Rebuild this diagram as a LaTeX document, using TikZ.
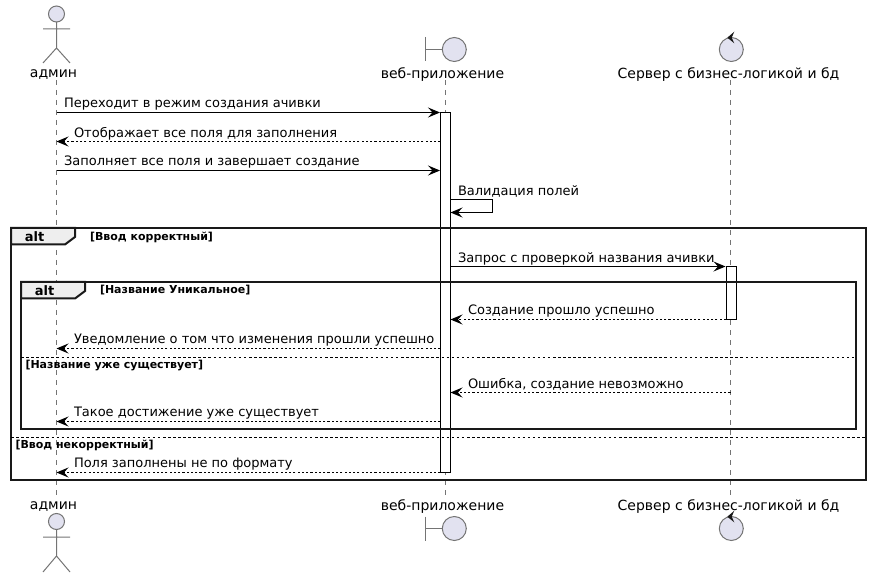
\documentclass[tikz,border=0pt]{standalone}
\usepackage{fontspec}
\setmainfont{DejaVu Sans}
\usetikzlibrary{arrows.meta}

\definecolor{partfill}{RGB}{226,226,240}
\definecolor{partline}{RGB}{24,24,24}
\definecolor{tabfill}{RGB}{238,238,238}

\tikzset{every picture/.style={line width=0.75pt},
  head/.style={draw=partline!60,fill=partfill,line width=0.75pt},
  limb/.style={draw=partline!60,line width=0.75pt},
  lifeline/.style={draw=partline!60,line width=0.5pt,dash pattern=on 3.75pt off 3.75pt},
  activebar/.style={draw=black,fill=white,line width=0.75pt,minimum width=7.5pt,inner sep=0pt},
  framebox/.style={draw=black!90,line width=1.5pt},
  tabshape/.style={draw=black!90,fill=tabfill,line width=1.5pt},
  framesep/.style={draw=black,line width=0.6pt,dash pattern=on 1.9pt off 1.9pt},
  msg/.style={draw=black,line width=0.75pt,-{Stealth[length=9pt,width=7.5pt,inset=3.4pt]}},
  reply/.style={msg,dash pattern=on 1.6pt off 1.6pt},
  partname/.style={font=\fontsize{10.5}{12}\selectfont,inner sep=0.75pt,text=black},
  msgtext/.style={font=\fontsize{9.75}{12}\selectfont,anchor=west,inner sep=0pt,text=black},
  guardtext/.style={font=\fontsize{8.25}{10}\selectfont\bfseries,anchor=west,inner sep=0pt,text=black},
  alttext/.style={font=\fontsize{9.75}{12}\selectfont\bfseries,inner sep=0pt,text=black}
}

\begin{document}
\begin{tikzpicture}[x=0.75pt,y=0.75pt,yscale=-1,xscale=1]
\useasboundingbox (0,0) rectangle (871,577);

%Lifelines
\coordinate (adminTop) at (56.5,80);
\coordinate (adminEnd) at (56.5,497);
\coordinate (webTop) at (445.5,80);
\coordinate (webEnd) at (445.5,497);
\coordinate (serverTop) at (730.5,80);
\coordinate (serverEnd) at (730.5,497);
\draw [lifeline] (adminTop) -- (adminEnd);
\draw [lifeline] (webTop) -- (webEnd);
\draw [lifeline] (serverTop) -- (serverEnd);

%Activation bars
\node (webBar) [activebar,minimum height=270pt] at (445.5,292.5) {};
\node (serverBar) [activebar,minimum height=39.75pt] at (731,293) {};

%Actor top
\draw [head] (56.5,14) circle [radius=8];
\draw [limb] (56.5,22) -- (56.5,48) (43,29) -- (70,29) (43,63) -- (56.5,48) -- (70,63);
%Boundary top
\draw [limb] (425.5,37) -- (425.5,61) (425.5,49.5) -- (442.3,49.5);
\draw [head] (454.3,49.5) circle [radius=12];
%Control top
\draw [head] (731.3,49.5) circle [radius=12];
\fill [partline] (727.3,37.7) -- (734.3,31.7) -- (731.7,37.7) -- (734.3,43.3) -- cycle;

%Actor bottom
\draw [head] (56.5,521.5) circle [radius=8];
\draw [limb] (56.5,529.5) -- (56.5,556) (43,537) -- (70,537) (43,572) -- (56.5,556) -- (70,572);
%Boundary bottom
\draw [limb] (425.5,516.5) -- (425.5,540.5) (425.5,528.5) -- (442.3,528.5);
\draw [head] (454.3,528.5) circle [radius=12];
%Control bottom
\draw [head] (731.3,528.5) circle [radius=12];
\fill [partline] (727.3,516.7) -- (734.3,510.7) -- (731.7,516.7) -- (734.3,522.3) -- cycle;

% Text Node
\node (adminName) [partname] at (53.5,74.5) {админ};
\node (webName) [partname] at (442.5,74.5) {веб-приложение};
\node (serverName) [partname] at (728.5,74.5) {Сервер с бизнес-логикой и бд};
\node (adminName2) [partname] at (53.5,506.5) {админ};
\node (webName2) [partname] at (442.5,506.5) {веб-приложение};
\node (serverName2) [partname] at (728.5,506.5) {Сервер с бизнес-логикой и бд};

%Outer alt frame
\draw [framebox] (11,228) rectangle (865.5,480);
\draw [tabshape] (11,228) -- (75,228) -- (75,237) -- (65,244.5) -- (11,244.5) -- cycle;
\node (outerAlt) [alttext] at (34.5,236.5) {alt};
\node (outerGuard) [guardtext] at (89.5,237) {[Ввод корректный]};
\coordinate (outerSepL) at (11,437.5);
\coordinate (outerSepR) at (865.5,437.5);
\draw [framesep] (outerSepL) -- (outerSepR);
\node (outerGuard2) [guardtext] at (15,445.5) {[Ввод некорректный]};

%Inner alt frame
\draw [framebox] (21,282) rectangle (855.5,429);
\draw [tabshape] (21,282) -- (85,282) -- (85,291) -- (75,298.5) -- (21,298.5) -- cycle;
\node (innerAlt) [alttext] at (44.5,290.5) {alt};
\node (innerGuard) [guardtext] at (99.5,290.5) {[Название Уникальное]};
\coordinate (innerSepL) at (21,357.5);
\coordinate (innerSepR) at (855.5,357.5);
\draw [framesep] (innerSepL) -- (innerSepR);
\node (innerGuard2) [guardtext] at (25,365.5) {[Название уже существует]};

%Messages
\coordinate (a1) at (56.5,112.5);  \coordinate (w1) at (440,112.5);
\coordinate (a2) at (56.5,141.5);  \coordinate (w2) at (440.5,141.5);
\coordinate (a3) at (56.5,170.5);  \coordinate (w3) at (440,170.5);
\coordinate (w4a) at (450.5,199.5); \coordinate (w4b) at (492.5,199.5);
\coordinate (w4c) at (492.5,212.5); \coordinate (w4d) at (450.5,212.5);
\coordinate (w5) at (450.5,266.5); \coordinate (s5) at (725.5,266.5);
\coordinate (w6) at (450.5,319.5); \coordinate (s6) at (726,319.5);
\coordinate (a7) at (56.5,348.5);  \coordinate (w7) at (440.5,348.5);
\coordinate (w8) at (450.5,392.5); \coordinate (s8) at (730.5,392.5);
\coordinate (a9) at (56.5,421.5);  \coordinate (w9) at (440.5,421.5);
\coordinate (a10) at (56.5,472.5); \coordinate (w10) at (440.5,472.5);
\draw [msg] (a1) -- (w1);
\draw [reply] (w2) -- (a2);
\draw [msg] (a3) -- (w3);
\draw [msg] (w4a) -- (w4b) -- (w4c) -- (w4d);
\draw [msg] (w5) -- (s5);
\draw [reply] (s6) -- (w6);
\draw [reply] (w7) -- (a7);
\draw [reply] (s8) -- (w8);
\draw [reply] (w9) -- (a9);
\draw [reply] (w10) -- (a10);

% Text Node
\node (t1) [msgtext] at (63.5,104.5) {Переходит в режим создания ачивки};
\node (t2) [msgtext] at (73.5,133.5) {Отображает все поля для заполнения};
\node (t3) [msgtext] at (63.5,162.5) {Заполняет все поля и завершает создание};
\node (t4) [msgtext] at (457.5,191.5) {Валидация полей};
\node (t5) [msgtext] at (457.5,258.5) {Запрос с проверкой названия ачивки};
\node (t6) [msgtext] at (467.5,311.5) {Создание прошло успешно};
\node (t7) [msgtext] at (73.5,340.5) {Уведомление о том что изменения прошли успешно};
\node (t8) [msgtext] at (467.5,384.5) {Ошибка, создание невозможно};
\node (t9) [msgtext] at (73.5,413.5) {Такое достижение уже существует};
\node (t10) [msgtext] at (73.5,464.5) {Поля заполнены не по формату};

\end{tikzpicture}
\end{document}
